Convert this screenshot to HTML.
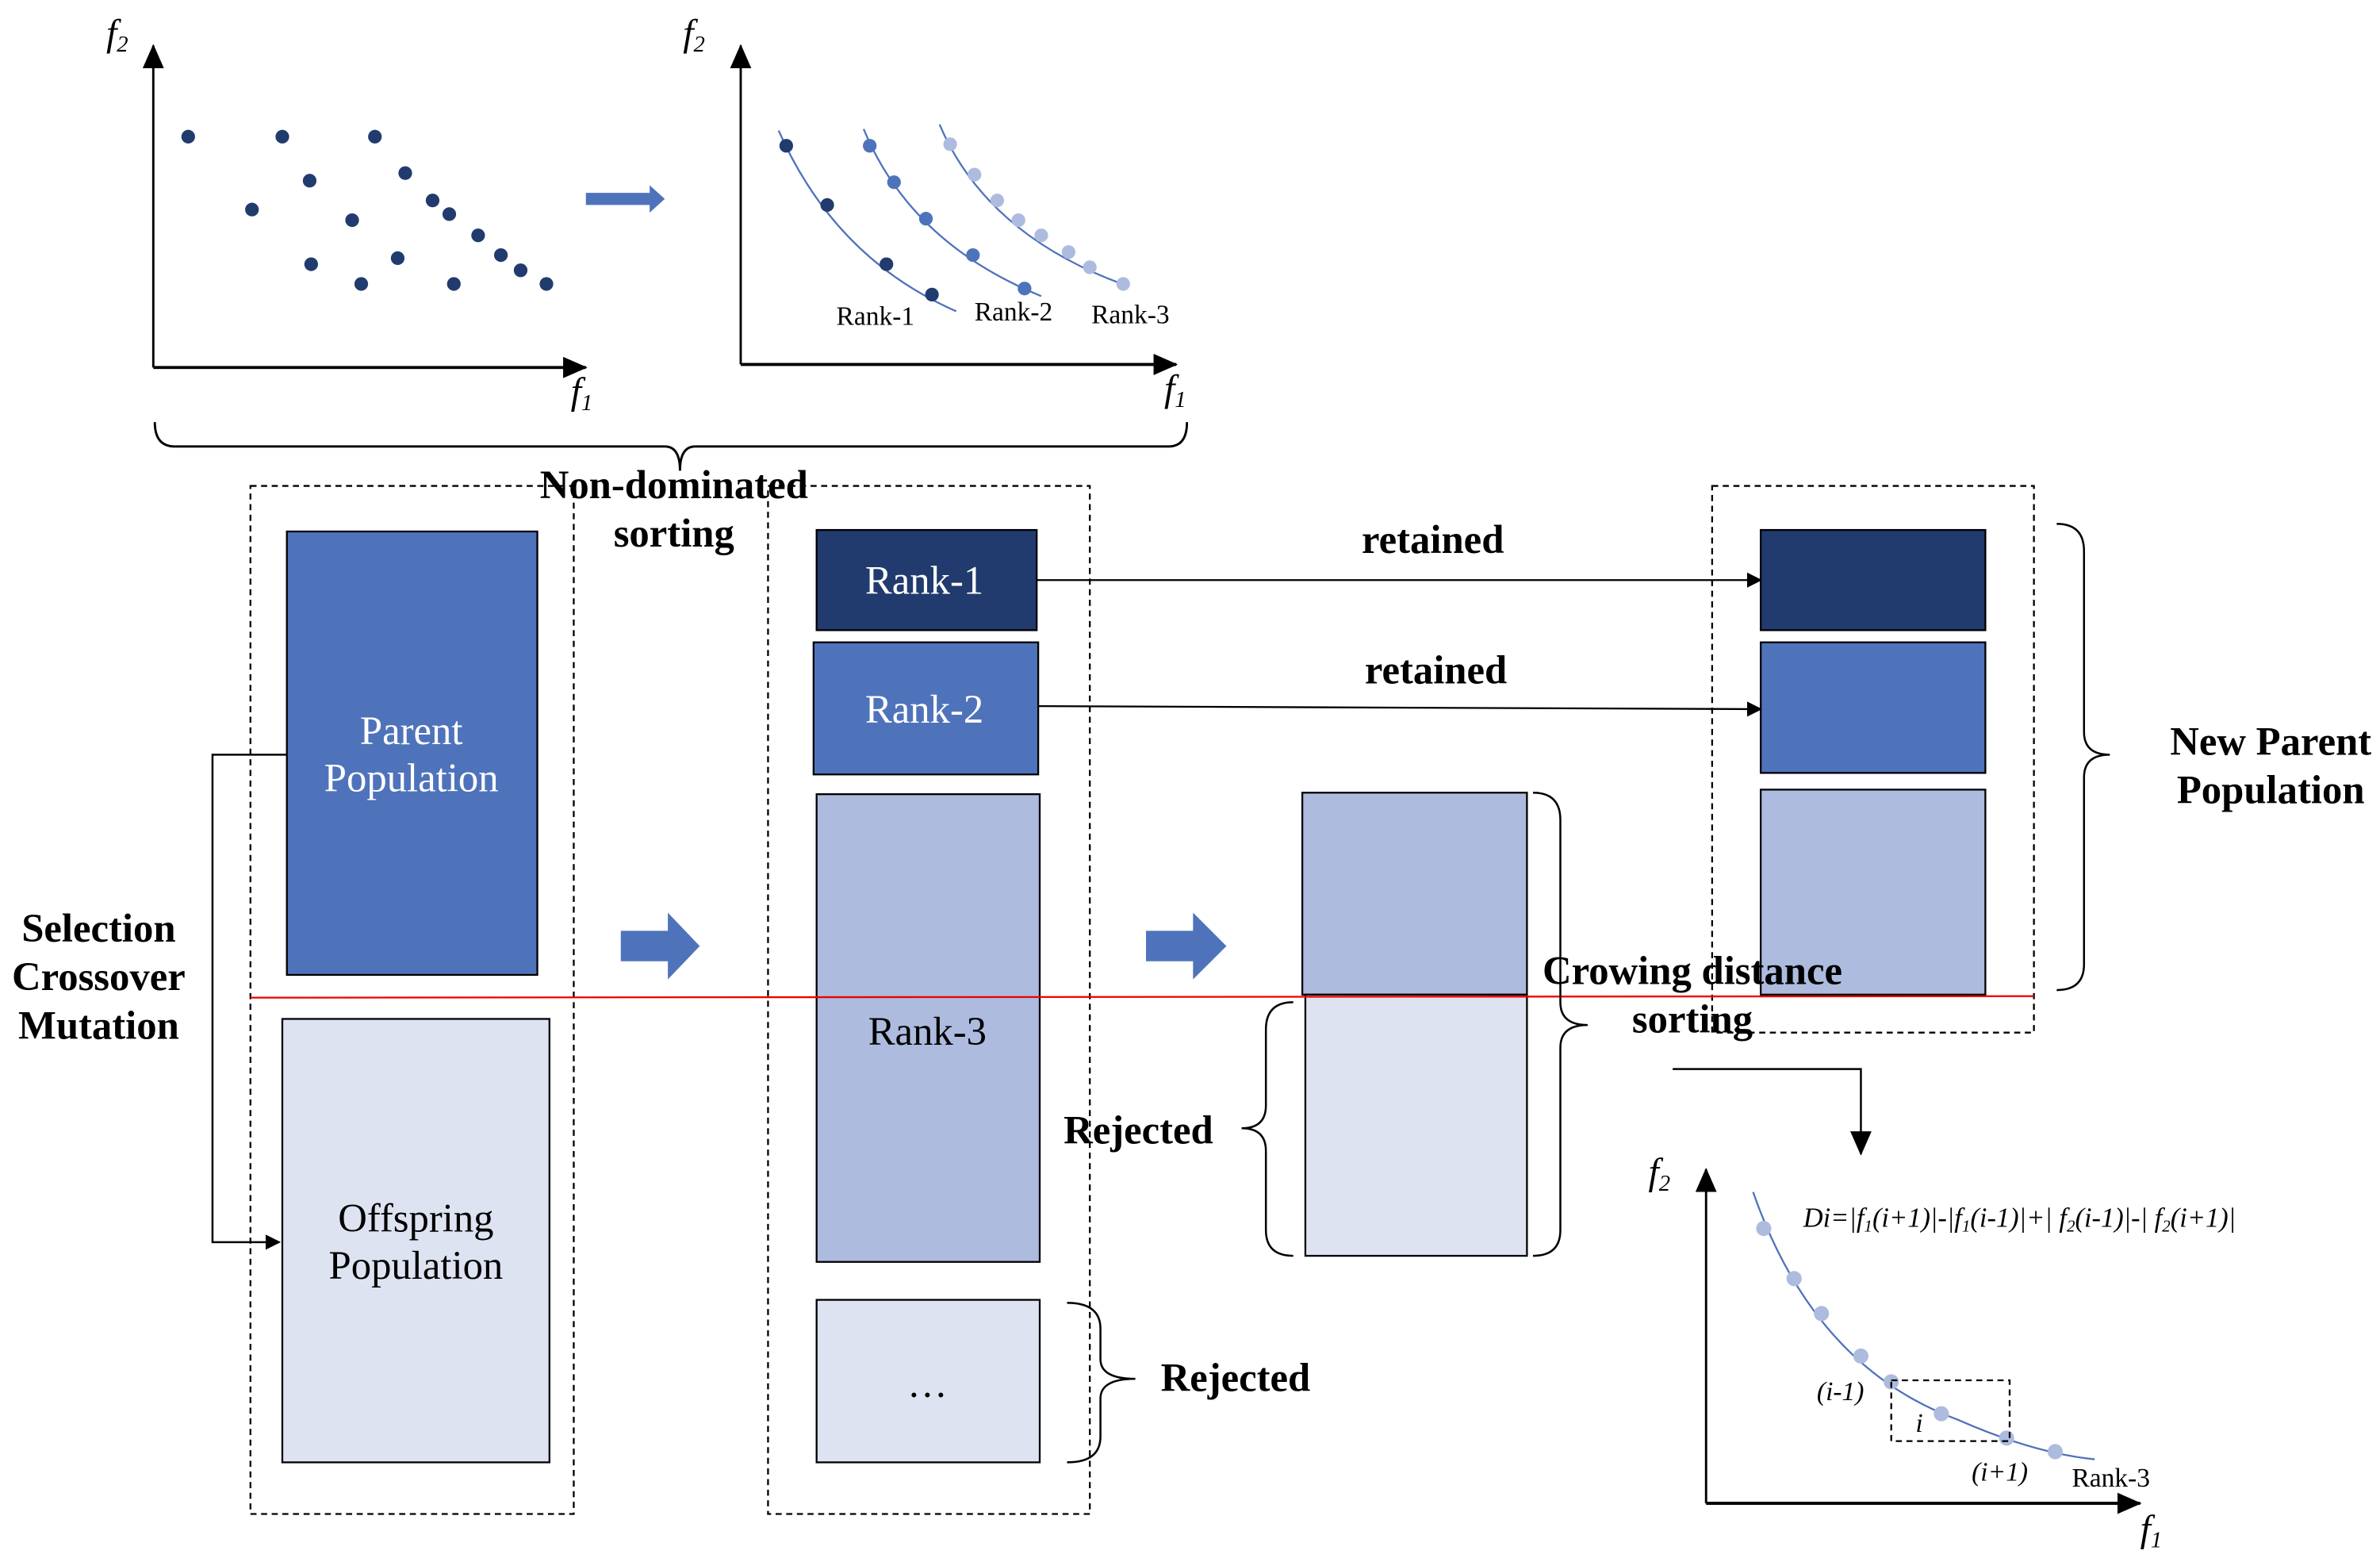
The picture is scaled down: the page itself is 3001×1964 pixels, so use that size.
<!DOCTYPE html>
<html><head><meta charset="utf-8"><style>html,body{margin:0;padding:0;background:#fff}svg{display:block}</style></head><body>
<svg width="3001" height="1964" viewBox="0 0 1568 1026" preserveAspectRatio="none" xmlns="http://www.w3.org/2000/svg" font-family="Liberation Serif, serif">
<defs>
<marker id="ah" markerWidth="10" markerHeight="10" refX="9" refY="5" orient="auto" markerUnits="userSpaceOnUse"><path d="M0,0 L10,5 L0,10 z" fill="#000"/></marker>
<marker id="ahb" markerWidth="16" markerHeight="14" refX="15" refY="7" orient="auto" markerUnits="userSpaceOnUse"><path d="M0,0 L16,7 L0,14 z" fill="#000"/></marker>
</defs>
<line x1="101" y1="242" x2="101" y2="30" stroke="#000" stroke-width="1.5" marker-end="url(#ahb)"/>
<line x1="101" y1="242" x2="386" y2="242" stroke="#000" stroke-width="2" marker-end="url(#ahb)"/>
<text x="70" y="30" font-size="25" font-style="italic">f<tspan font-size="15" dy="4">2</tspan></text>
<text x="376" y="266" font-size="25" font-style="italic">f<tspan font-size="15" dy="4">1</tspan></text>
<g fill="#213b6e">
<circle cx="124" cy="90" r="4.5"/><circle cx="186" cy="90" r="4.5"/><circle cx="247" cy="90" r="4.5"/><circle cx="204" cy="119" r="4.5"/><circle cx="267" cy="114" r="4.5"/><circle cx="166" cy="138" r="4.5"/><circle cx="232" cy="145" r="4.5"/><circle cx="285" cy="132" r="4.5"/><circle cx="296" cy="141" r="4.5"/><circle cx="315" cy="155" r="4.5"/><circle cx="330" cy="168" r="4.5"/><circle cx="343" cy="178" r="4.5"/><circle cx="360" cy="187" r="4.5"/><circle cx="205" cy="174" r="4.5"/><circle cx="238" cy="187" r="4.5"/><circle cx="262" cy="170" r="4.5"/><circle cx="299" cy="187" r="4.5"/>
</g>
<path d="M386,127 H428 V122 L438,131 L428,140 V135 H386 z" fill="#4f73bb"/>
<line x1="488" y1="240" x2="488" y2="30" stroke="#000" stroke-width="1.5" marker-end="url(#ahb)"/>
<line x1="488" y1="240" x2="775" y2="240" stroke="#000" stroke-width="2" marker-end="url(#ahb)"/>
<text x="450" y="30" font-size="25" font-style="italic">f<tspan font-size="15" dy="4">2</tspan></text>
<text x="767" y="264" font-size="25" font-style="italic">f<tspan font-size="15" dy="4">1</tspan></text>
<path d="M513,86 Q550,170 630,205" fill="none" stroke="#4f73bb" stroke-width="1.2"/>
<path d="M569,85 Q600,160 686,195" fill="none" stroke="#4f73bb" stroke-width="1.2"/>
<path d="M619,82 Q650,155 742,188" fill="none" stroke="#4f73bb" stroke-width="1.2"/>
<g fill="#213b6e"><circle cx="518" cy="96" r="4.5"/><circle cx="545" cy="135" r="4.5"/><circle cx="584" cy="174" r="4.5"/><circle cx="614" cy="194" r="4.5"/></g>
<g fill="#4f73bb"><circle cx="573" cy="96" r="4.5"/><circle cx="589" cy="120" r="4.5"/><circle cx="610" cy="144" r="4.5"/><circle cx="641" cy="168" r="4.5"/><circle cx="675" cy="190" r="4.5"/></g>
<g fill="#adbbdf"><circle cx="626" cy="95" r="4.5"/><circle cx="642" cy="115" r="4.5"/><circle cx="657" cy="132" r="4.5"/><circle cx="671" cy="145" r="4.5"/><circle cx="686" cy="155" r="4.5"/><circle cx="704" cy="166" r="4.5"/><circle cx="718" cy="176" r="4.5"/><circle cx="740" cy="187" r="4.5"/></g>
<text x="551" y="214" font-size="17.5">Rank-1</text>
<text x="642" y="211" font-size="17.5">Rank-2</text>
<text x="719" y="213" font-size="17.5">Rank-3</text>
<path d="M102,278 Q102,294 115,294 H438 Q448,294 448,310 Q448,294 458,294 H770 Q782,294 782,278" fill="none" stroke="#000" stroke-width="1.5"/>
<text x="444" y="328" font-size="26.5" font-weight="bold" text-anchor="middle">Non-dominated</text>
<text x="444" y="360" font-size="26.5" font-weight="bold" text-anchor="middle">sorting</text>
<g fill="none" stroke="#000" stroke-width="1.2" stroke-dasharray="4,3">
<rect x="165" y="320" width="213" height="677"/>
<rect x="506" y="320" width="212" height="677"/>
<rect x="1128" y="320" width="212" height="360"/>
</g>
<g stroke="#000" stroke-width="1.2">
<rect x="189" y="350" width="165" height="292" fill="#4f73bb"/>
<rect x="186" y="671" width="176" height="292" fill="#dde3f1"/>
<rect x="538" y="349" width="145" height="66" fill="#213b6e"/>
<rect x="536" y="423" width="148" height="87" fill="#4f73bb"/>
<rect x="538" y="523" width="147" height="308" fill="#adbbdf"/>
<rect x="538" y="856" width="147" height="107" fill="#dde3f1"/>
<rect x="858" y="522" width="148" height="133" fill="#adbbdf"/>
<rect x="860" y="655" width="146" height="172" fill="#dde3f1"/>
<rect x="1160" y="349" width="148" height="66" fill="#213b6e"/>
<rect x="1160" y="423" width="148" height="86" fill="#4f73bb"/>
<rect x="1160" y="520" width="148" height="135" fill="#adbbdf"/>
</g>
<g font-size="26.5" text-anchor="middle">
<text x="271" y="490" fill="#fff">Parent</text><text x="271" y="521" fill="#fff">Population</text>
<text x="274" y="811">Offspring</text><text x="274" y="842">Population</text>
<text x="609" y="391" fill="#fff">Rank-1</text>
<text x="609" y="476" fill="#fff">Rank-2</text>
<text x="611" y="688">Rank-3</text>
<text x="611" y="920">…</text>
</g>
<path d="M409,613 H440 V601 L461,623 L440,645 V633 H409 z" fill="#4f73bb"/>
<path d="M755,613 H786 V601 L808,623 L786,645 V633 H755 z" fill="#4f73bb"/>
<line x1="165" y1="657" x2="1340" y2="656" stroke="#e00" stroke-width="1.2"/>
<line x1="683" y1="382" x2="1160" y2="382" stroke="#000" stroke-width="1.2" marker-end="url(#ah)"/>
<line x1="684" y1="465" x2="1160" y2="467" stroke="#000" stroke-width="1.2" marker-end="url(#ah)"/>
<g font-size="26.5" font-weight="bold" text-anchor="middle">
<text x="944" y="364">retained</text>
<text x="946" y="450">retained</text>
<text x="65" y="620">Selection</text><text x="65" y="652">Crossover</text><text x="65" y="684">Mutation</text>
<text x="1115" y="648">Crowing distance</text><text x="1115" y="680">sorting</text>
<text x="750" y="753">Rejected</text>
<text x="814" y="916">Rejected</text>
<text x="1496" y="497">New Parent</text><text x="1496" y="529">Population</text>
</g>
<g fill="none" stroke="#000" stroke-width="1.3">
<path d="M1010,522 Q1028,522 1028,540 V660 Q1028,675 1046,675 Q1028,675 1028,690 V810 Q1028,827 1010,827"/>
<path d="M852,660 Q834,660 834,678 V728 Q834,743 818,743 Q834,743 834,758 V810 Q834,827 852,827"/>
<path d="M703,858 Q725,858 725,875 V895 Q725,908 748,908 Q725,908 725,921 V946 Q725,963 703,963"/>
<path d="M1355,345 Q1373,345 1373,363 V482 Q1373,497 1390,497 Q1373,497 1373,512 V635 Q1373,652 1355,652"/>
</g>
<polyline points="189,497 140,497 140,818 184,818" fill="none" stroke="#000" stroke-width="1.3" marker-end="url(#ah)"/>
<polyline points="1102,704 1226,704 1226,760" fill="none" stroke="#000" stroke-width="1.3" marker-end="url(#ahb)"/>
<line x1="1124" y1="990" x2="1124" y2="770" stroke="#000" stroke-width="1.5" marker-end="url(#ahb)"/>
<line x1="1124" y1="990" x2="1410" y2="990" stroke="#000" stroke-width="2" marker-end="url(#ahb)"/>
<text x="1086" y="780" font-size="25" font-style="italic">f<tspan font-size="15" dy="4">2</tspan></text>
<text x="1410" y="1015" font-size="25" font-style="italic">f<tspan font-size="15" dy="4">1</tspan></text>
<path d="M1155,785 Q1195,900 1290,935 Q1340,957 1380,961" fill="none" stroke="#4f73bb" stroke-width="1.2"/>
<g fill="#adbbdf"><circle cx="1162" cy="809" r="5"/><circle cx="1182" cy="842" r="5"/><circle cx="1200" cy="865" r="5"/><circle cx="1226" cy="893" r="5"/><circle cx="1246" cy="910" r="5"/><circle cx="1279" cy="931" r="5"/><circle cx="1322" cy="947" r="5"/><circle cx="1354" cy="956" r="5"/></g>
<rect x="1246" y="909" width="78" height="40" fill="none" stroke="#000" stroke-width="1.2" stroke-dasharray="4,3"/>
<text x="1188" y="808" font-size="18" font-style="italic">Di=|f<tspan font-size="11" dy="3">1</tspan><tspan dy="-3">(i+1)|-|f</tspan><tspan font-size="11" dy="3">1</tspan><tspan dy="-3">(i-1)|+| f</tspan><tspan font-size="11" dy="3">2</tspan><tspan dy="-3">(i-1)|-| f</tspan><tspan font-size="11" dy="3">2</tspan><tspan dy="-3">(i+1)|</tspan></text>
<text x="1197" y="922" font-size="17.5" font-style="italic">(i-1)</text>
<text x="1262" y="943" font-size="17.5" font-style="italic">i</text>
<text x="1299" y="975" font-size="17.5" font-style="italic">(i+1)</text>
<text x="1365" y="979" font-size="17.5">Rank-3</text>
</svg>
</body></html>
